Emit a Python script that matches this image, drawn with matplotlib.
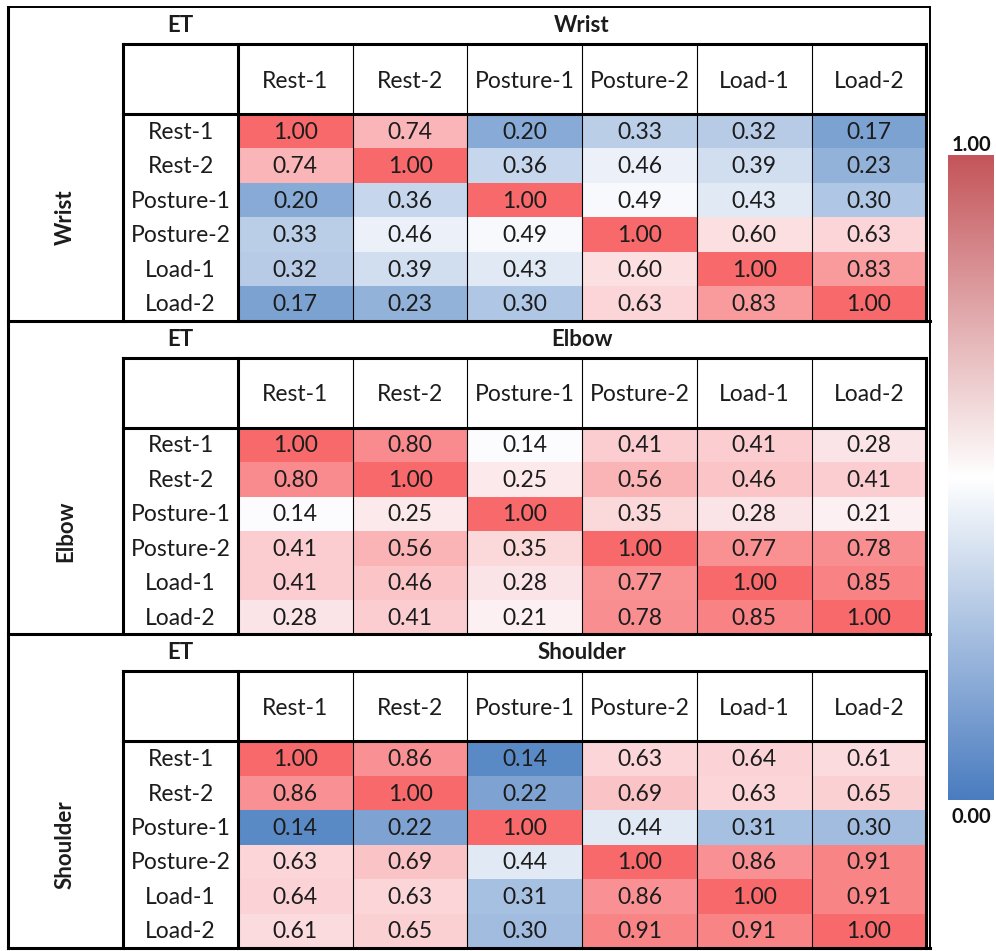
import matplotlib
matplotlib.use("Agg")
import numpy as np
from matplotlib import pyplot as plt
from matplotlib.colors import LinearSegmentedColormap, TwoSlopeNorm
from matplotlib.patches import Rectangle

plt.rcParams['font.family'] = ['Lato', 'DejaVu Sans']

# data
conditions = ['Rest-1', 'Rest-2', 'Posture-1', 'Posture-2', 'Load-1', 'Load-2']
joints = ['Wrist', 'Elbow', 'Shoulder']
group_label = 'ET'

wrist = [[1.00, 0.74, 0.20, 0.33, 0.32, 0.17],
         [0.74, 1.00, 0.36, 0.46, 0.39, 0.23],
         [0.20, 0.36, 1.00, 0.49, 0.43, 0.30],
         [0.33, 0.46, 0.49, 1.00, 0.60, 0.63],
         [0.32, 0.39, 0.43, 0.60, 1.00, 0.83],
         [0.17, 0.23, 0.30, 0.63, 0.83, 1.00]]

elbow = [[1.00, 0.80, 0.14, 0.41, 0.41, 0.28],
         [0.80, 1.00, 0.25, 0.56, 0.46, 0.41],
         [0.14, 0.25, 1.00, 0.35, 0.28, 0.21],
         [0.41, 0.56, 0.35, 1.00, 0.77, 0.78],
         [0.41, 0.46, 0.28, 0.77, 1.00, 0.85],
         [0.28, 0.41, 0.21, 0.78, 0.85, 1.00]]

shoulder = [[1.00, 0.86, 0.14, 0.63, 0.64, 0.61],
            [0.86, 1.00, 0.22, 0.69, 0.63, 0.65],
            [0.14, 0.22, 1.00, 0.44, 0.31, 0.30],
            [0.63, 0.69, 0.44, 1.00, 0.86, 0.91],
            [0.64, 0.63, 0.31, 0.86, 1.00, 0.91],
            [0.61, 0.65, 0.30, 0.91, 0.91, 1.00]]

colorbar_ticks = ['1.00', '0.00']

# excel-like conditional formatting, one scale per block
cell_cmap = LinearSegmentedColormap.from_list('xl', ['#5A8AC6', '#FCFCFF', '#F8696B'])
bar_cmap = LinearSegmentedColormap.from_list('bar', ['#4A7CC0', '#FFFFFF', '#C4555A'])
norms = [TwoSlopeNorm(vcenter=0.5, vmin=0.08, vmax=1.0),
         TwoSlopeNorm(vcenter=0.14, vmin=0.0, vmax=1.0),
         TwoSlopeNorm(vcenter=0.5, vmin=0.14, vmax=1.0)]

# layout in pixels (y down)
W, H = 996, 951
X0, X_OUT = 8, 930
X_LAB, X_DAT = 123, 238
COL_W = 114.7
X_END = X_DAT + COL_W * len(conditions)
Y0 = 7
BLOCK_H = 313.7
ET_H, HDR_H = 37, 70
ROW_H = (BLOCK_H - ET_H - HDR_H) / len(conditions)
THICK, THIN = 2.2, 0.8
FS = 16.5
TXT = '#1c1c1c'

fig = plt.figure(figsize=(W / 100, H / 100), dpi=100)
ax = fig.add_axes([0, 0, 1, 1])
ax.set_xlim(0, W)
ax.set_ylim(H, 0)
ax.axis('off')


def hline(y, x1, x2, lw):
    ax.plot([x1, x2], [y, y], color='black', lw=lw, solid_capstyle='projecting', zorder=5)


def vline(x, y1, y2, lw):
    ax.plot([x, x], [y1, y2], color='black', lw=lw, solid_capstyle='projecting', zorder=5)


blocks = [wrist, elbow, shoulder]
for b, (name, vals, norm) in enumerate(zip(joints, blocks, norms)):
    vals = np.array(vals)
    top = Y0 + b * BLOCK_H
    y_hdr = top + ET_H
    y_dat = y_hdr + HDR_H
    bottom = top + BLOCK_H

    # cells
    for i in range(len(conditions)):
        for j in range(len(conditions)):
            v = vals[i, j]
            x = X_DAT + j * COL_W
            y = y_dat + i * ROW_H
            ax.add_patch(Rectangle((x, y), COL_W, ROW_H, facecolor=cell_cmap(norm(v)),
                                   edgecolor='none', zorder=1))
            ax.text(x + COL_W / 2, y + ROW_H / 2 + 1, f'{v:.2f}', ha='center', va='center',
                    fontsize=FS, color=TXT, zorder=6)

    # labels
    for i, c in enumerate(conditions):
        ax.text((X_LAB + X_DAT) / 2, y_dat + (i + 0.5) * ROW_H + 1, c, ha='center',
                va='center', fontsize=FS, color=TXT, zorder=6)
        ax.text(X_DAT + (i + 0.5) * COL_W, y_hdr + HDR_H / 2 + 2, c, ha='center',
                va='center', fontsize=FS, color=TXT, zorder=6)
    ax.text((X_LAB + X_DAT) / 2, top + ET_H / 2, group_label, ha='center', va='center',
            fontsize=FS - 0.5, fontweight='bold', color=TXT)
    ax.text((X_DAT + X_END) / 2, top + ET_H / 2, name, ha='center', va='center',
            fontsize=FS - 0.5, fontweight='bold', color=TXT)
    ax.text((X0 + X_LAB) / 2, (y_dat + bottom) / 2, name, ha='center', va='center',
            fontsize=FS - 0.5, fontweight='bold', rotation=90, color=TXT)

    # grid lines
    hline(y_hdr, X_LAB, X_END, THICK)
    hline(y_dat, X_LAB, X_END, THICK)
    vline(X_LAB, y_hdr, bottom, THICK)
    vline(X_DAT, y_hdr, bottom, THICK)
    for j in range(1, len(conditions)):
        vline(X_DAT + j * COL_W, y_hdr, bottom, THIN)
    vline(X_END, y_hdr, bottom, THICK)
    hline(bottom, X0, X_OUT, THICK)

# outer frame
hline(Y0, X0, X_OUT, 1.4)
vline(X0, Y0, Y0 + 3 * BLOCK_H, THICK)
vline(X_OUT, Y0, Y0 + 3 * BLOCK_H, 1.4)

# colour bar
grad = np.linspace(1, 0, 256).reshape(-1, 1)
ax.imshow(grad, cmap=bar_cmap, aspect='auto', extent=(948, 994, 800, 155), zorder=1)
ax.text(971, 145, colorbar_ticks[0], ha='center', va='center', fontsize=14.5,
        fontweight='bold', color='#111111')
ax.text(971, 817, colorbar_ticks[1], ha='center', va='center', fontsize=14.5,
        fontweight='bold', color='#111111')
ax.set_xlim(0, W)
ax.set_ylim(H, 0)

fig.savefig('out.png', dpi=100)
